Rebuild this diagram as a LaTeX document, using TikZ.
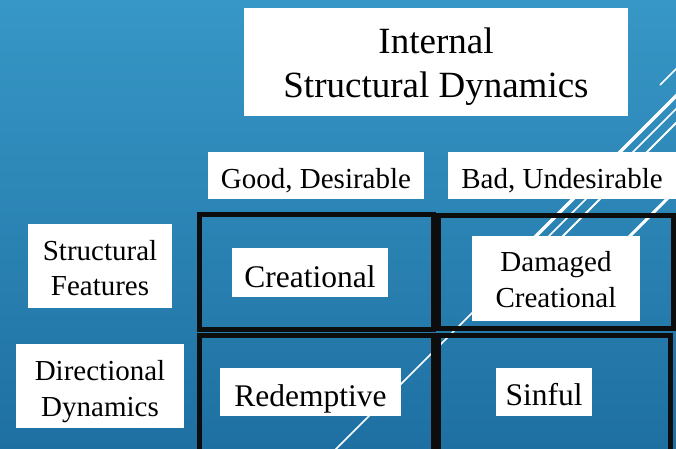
\documentclass[tikz,border=0pt]{standalone}
\usepackage{fontspec}
\setmainfont{Liberation Serif}
\definecolor{bgtop}{RGB}{55,151,198}
\definecolor{bgbot}{RGB}{30,112,162}
\newcommand{\mytwo}[2]{\begin{tabular}[t]{@{}c@{}}#1\\#2\end{tabular}}
\tikzset{
  wbox/.style={fill=white, draw=none, inner sep=0pt, text=black},
  cellbox/.style={draw=black!95, line width=5pt},
  deco/.style={draw=white, line cap=butt},
  bigfont/.style={font=\fontsize{37}{44.5}\selectfont},
  midfont/.style={font=\fontsize{31.5}{38}\selectfont},
  smallfont/.style={font=\fontsize{29}{35.7}\selectfont},
}
\begin{document}
\begin{tikzpicture}[x=1pt,y=-1pt]
\useasboundingbox (0,0) rectangle (676,448);
\shade[top color=bgtop, bottom color=bgbot] (0,0) rectangle (676,448);

% decorative white diagonal lines
\draw[deco, line width=1.5pt] (660,85) -- (700,45);
\draw[deco, line width=3.5pt] (512,260) -- (700,72);
\draw[deco, line width=1.5pt] (327,458) -- (720,65);
\draw[deco, line width=1.8pt] (520,279) -- (720,79);
\draw[deco, line width=3pt] (580,286) -- (720,146);

% grid cells
\draw[cellbox] (199,214.5) rectangle (433.5,329.5);
\draw[cellbox] (438.5,215) rectangle (673,328);
\draw[cellbox] (199,335.5) rectangle (433.5,470);
\draw[cellbox] (438.5,335.5) rectangle (670.5,470);

% text boxes
\node[wbox, bigfont, minimum width=384pt, minimum height=108pt, text height=0pt, text depth=18pt]
  (title) at (436,62) {\mytwo{Internal}{Structural Dynamics}};
\node[wbox, smallfont, minimum width=216pt, minimum height=47.3pt, text height=24.6pt, text depth=0pt]
  (good) at (316,175.7) {Good, Desirable};
\node[wbox, smallfont, minimum width=228pt, minimum height=47.3pt, text height=24.6pt, text depth=0pt]
  (bad) at (562,175.7) {Bad, Undesirable};
\node[wbox, smallfont, minimum width=144pt, minimum height=84pt, text height=0pt, text depth=12pt]
  (struct) at (100,266) {\mytwo{Structural}{Features}};
\node[wbox, smallfont, minimum width=168pt, minimum height=84pt, text height=0pt, text depth=11pt]
  (dir) at (100,386) {\mytwo{Directional}{Dynamics}};
\node[wbox, midfont, minimum width=156pt, minimum height=49pt, text height=29pt, text depth=0pt]
  (creat) at (310,272.5) {Creational};
\node[wbox, midfont, minimum width=181pt, minimum height=48pt, text height=28pt, text depth=0pt]
  (redem) at (310.5,392) {Redemptive};
\node[wbox, smallfont, minimum width=168pt, minimum height=85pt, text height=0pt, text depth=13.6pt]
  (damaged) at (556,278.5) {\mytwo{Damaged}{Creational}};
\node[wbox, midfont, minimum width=96pt, minimum height=48pt, text height=26pt, text depth=0pt]
  (sinful) at (544,392) {Sinful};
\end{tikzpicture}
\end{document}
